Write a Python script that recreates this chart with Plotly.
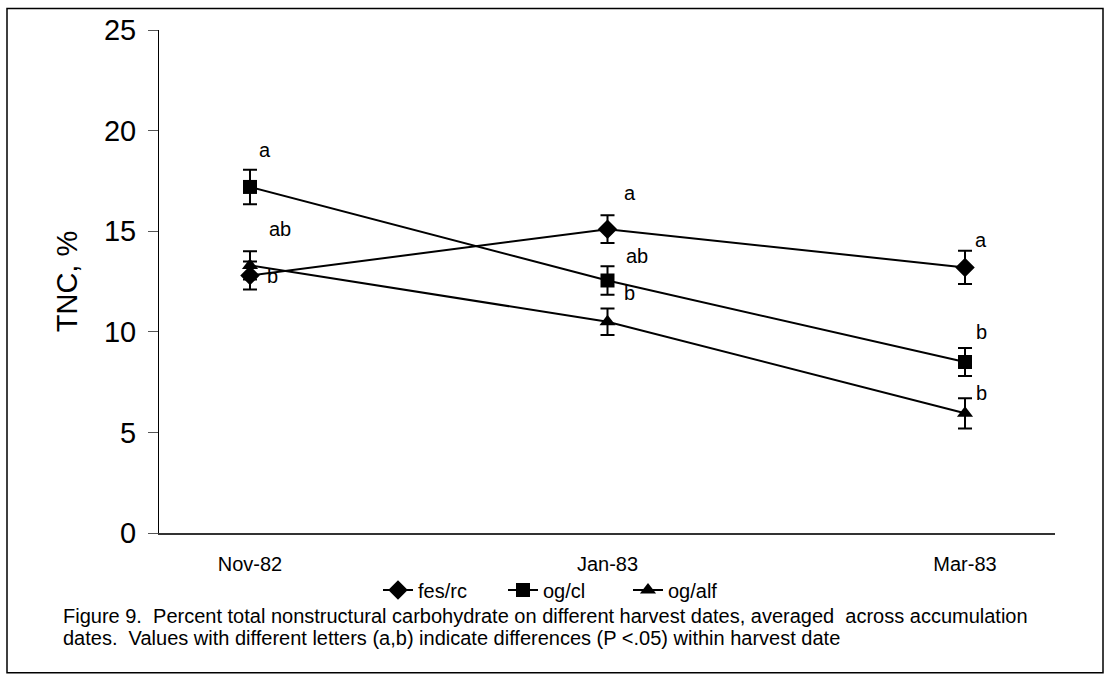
import plotly.graph_objects as go

# ---- data ----
harvest_dates = ["Nov-82", "Jan-83", "Mar-83"]
fes_rc = [12.8, 15.1, 13.2]
fes_rc_err = [0.7, 0.69, 0.83]
og_cl = [17.2, 12.55, 8.5]
og_cl_err = [0.86, 0.71, 0.7]
og_alf = [13.3, 10.5, 5.95]
og_alf_err = [0.7, 0.66, 0.75]
fes_rc_letters = ["b", "a", "a"]
og_cl_letters = ["a", "ab", "b"]
og_alf_letters = ["ab", "b", "b"]

FONT = "Liberation Sans, Arial, sans-serif"
W, H = 1108, 676
L, R, T, B = 159, 53, 29.5, 143
PW, PH = W - L - R, H - T - B

xpos = list(range(len(harvest_dates)))

series = [
    ("fes/rc", fes_rc, fes_rc_err, "diamond", 15, fes_rc_letters,
     [(23, -1), (22, 36), (16, 27)]),
    ("og/cl", og_cl, og_cl_err, "square", 14, og_cl_letters,
     [(15, 37), (29, 24), (16, 30)]),
    ("og/alf", og_alf, og_alf_err, "triangle-up", 14, og_alf_letters,
     [(30, 36), (22, 29), (16, 20)]),
]

fig = go.Figure()
annotations = []
for name, vals, errs, sym, msize, letters, offs in series:
    fig.add_trace(go.Scatter(
        x=xpos, y=vals, name=name, mode="lines+markers",
        line=dict(color="black", width=2),
        marker=dict(symbol=sym, size=msize, color="black"),
        error_y=dict(type="data", array=errs, visible=True,
                     color="black", thickness=2, width=7),
    ))
    for xi, v, lt, (dx, dy) in zip(xpos, vals, letters, offs):
        annotations.append(dict(
            x=xi, y=v, xref="x", yref="y", text=lt, showarrow=False,
            xshift=dx, yshift=dy, xanchor="center", yanchor="middle",
            font=dict(family=FONT, size=20, color="black"),
        ))

def px2x(px):
    return (px - L) / PW

def px2y(py):
    return (H - B - py) / PH

annotations.append(dict(
    x=px2x(61), y=px2y(616), xref="paper", yref="paper", showarrow=False,
    xanchor="left", yanchor="middle", align="left",
    text="Figure 9.  Percent total nonstructural carbohydrate on different harvest dates, averaged  across accumulation",
    font=dict(family=FONT, size=20, color="black"),
))
annotations.append(dict(
    x=px2x(61), y=px2y(638), xref="paper", yref="paper", showarrow=False,
    xanchor="left", yanchor="middle", align="left",
    text="dates.  Values with different letters (a,b) indicate differences (P <.05) within harvest date",
    font=dict(family=FONT, size=20, color="black"),
))

fig.update_layout(
    width=W, height=H,
    margin=dict(l=L, r=R, t=T, b=B, autoexpand=False),
    paper_bgcolor="white", plot_bgcolor="white",
    showlegend=True,
    legend=dict(orientation="h", x=px2x(378), y=px2y(590),
                xanchor="left", yanchor="middle",
                font=dict(family=FONT, size=20, color="black"),
                entrywidth=80, entrywidthmode="pixels",
                itemwidth=30, tracegroupgap=0, bgcolor="rgba(0,0,0,0)"),
    annotations=annotations,
    shapes=[dict(type="rect", xref="paper", yref="paper",
                 x0=px2x(7), x1=px2x(1103), y0=px2y(673), y1=px2y(8),
                 line=dict(color="black", width=1.5))],
    font=dict(family=FONT, color="black"),
)

fig.update_xaxes(
    range=[-0.2545, 2.2517], tickvals=xpos, ticktext=harvest_dates,
    showline=True, linecolor="#333", linewidth=1.5, showgrid=False,
    zeroline=False, ticks="", ticklabelstandoff=12,
    tickfont=dict(family=FONT, size=20, color="black"),
)
fig.update_yaxes(
    range=[0, 25], tickvals=[0, 5, 10, 15, 20, 25],
    showline=True, linecolor="black", linewidth=1, showgrid=False,
    zeroline=False, ticks="outside", ticklen=10, tickcolor="#555",
    tickfont=dict(family=FONT, size=29, color="black"),
    ticklabelstandoff=6,
    title=dict(text="TNC, %", font=dict(family=FONT, size=29, color="black"),
               standoff=17),
)

fig.write_html("out.html", config={"displayModeBar": False},
               post_script="document.body.style.margin='0';document.body.style.overflow='hidden';")
